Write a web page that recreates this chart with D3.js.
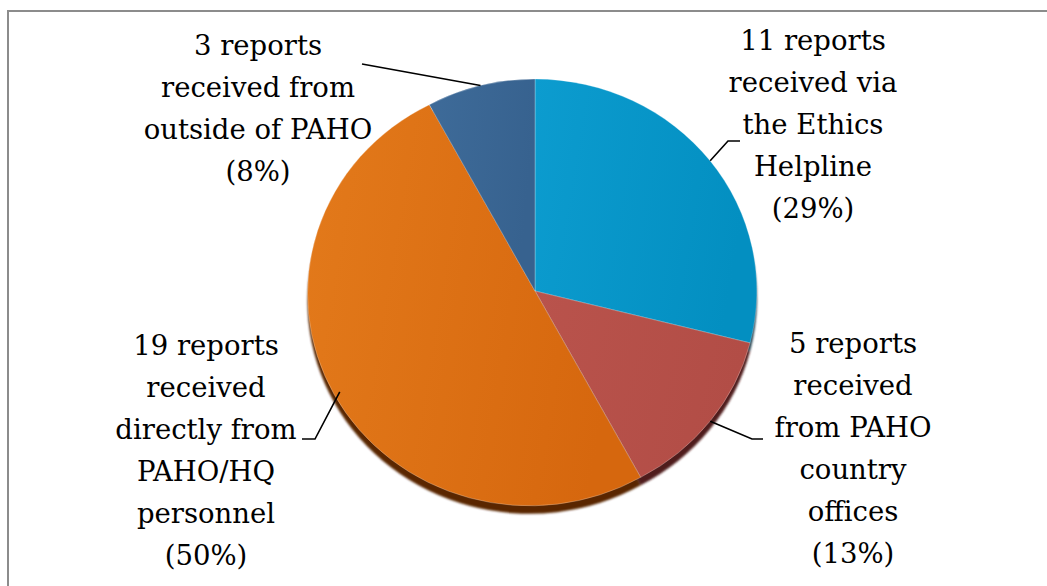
<!DOCTYPE html>
<html>
<head>
<meta charset="utf-8">
<script src="https://cdn.jsdelivr.net/npm/d3@7"></script>
<style>
  html, body { margin: 0; padding: 0; background: #fff; }
  svg { display: block; }
  text { font-family: "DejaVu Serif", serif; fill: #000; }
</style>
</head>
<body>
<svg id="chart" width="1047" height="586"></svg>
<script>
// data, clockwise from 12 o'clock
const categories = ["Ethics Helpline", "PAHO country offices", "PAHO/HQ personnel", "Outside of PAHO"];
const reports = [11, 5, 19, 3];
const labelLines = [
  ["11 reports", "received via", "the Ethics", "Helpline", "(29%)"],
  ["5 reports", "received", "from PAHO", "country", "offices", "(13%)"],
  ["19 reports", "received", "directly from", "PAHO/HQ", "personnel", "(50%)"],
  ["3 reports", "received from", "outside of PAHO", "(8%)"]
];

// slice colours: gradient left / right, and the dark rim below
const colors = {
  light: ["#0c9ccf", "#b9534c", "#e37a1b", "#3e6b99"],
  dark: ["#038fc1", "#b24d46", "#d6670e", "#37628f"],
  shadow: ["#1d3a4a", "#4f1e1e", "#5a2800", "#2a2a3a"]
};

const width = 1047, height = 586;
const cx = 535, cy = 291, rx = 222, ry = 212;
const fontSize = 27.5, lineGap = 42;

// label layout: centre x, first baseline, leader end points
const labelPos = [
  { x: 813, y: 50, elbow: [728, 141], end: [740, 141] },
  { x: 853, y: 353, elbow: [752, 439], end: [763, 439] },
  { x: 206, y: 355, elbow: [315, 439], end: [302, 439] },
  { x: 258, y: 55, elbow: null, end: [362, 64] }
];

const svg = d3.select("#chart");

// frame
svg.append("path")
  .attr("d", `M8,${height + 5} L8,11 L${width + 5},11`)
  .attr("fill", "none")
  .attr("stroke", "#8c8c8c")
  .attr("stroke-width", 2);

const defs = svg.append("defs");
categories.forEach((c, i) => {
  const g = defs.append("linearGradient")
    .attr("id", "grad" + i)
    .attr("x1", "0%").attr("y1", "0%").attr("x2", "100%").attr("y2", "20%");
  g.append("stop").attr("offset", "0%").attr("stop-color", colors.light[i]);
  g.append("stop").attr("offset", "100%").attr("stop-color", colors.dark[i]);
});
defs.append("filter").attr("id", "blur")
  .append("feGaussianBlur").attr("stdDeviation", 0.8);

const pie = d3.pie().sort(null).value(d => d);
const arcs = pie(reports);
const arc = d3.arc().innerRadius(0).outerRadius(1);

// shadow below the pie (blur applied in screen units on the outer group)
svg.append("g")
  .attr("filter", "url(#blur)")
  .append("g")
  .attr("transform", `translate(${cx},${cy + 8}) scale(${rx},${ry})`)
  .selectAll("path")
  .data(arcs)
  .enter().append("path")
  .attr("d", arc)
  .attr("fill", (d, i) => colors.shadow[i]);

// slices
svg.append("g")
  .attr("transform", `translate(${cx},${cy}) scale(${rx},${ry})`)
  .selectAll("path")
  .data(arcs)
  .enter().append("path")
  .attr("d", arc)
  .attr("fill", (d, i) => `url(#grad${i})`)
  .attr("stroke", "rgba(255,255,255,0.3)")
  .attr("stroke-width", 0.004);

// point on the pie edge for a given angle
function edgePoint(a, k) {
  return [cx + rx * k * Math.sin(a), cy - ry * k * Math.cos(a)];
}

// leader lines
const line = d3.line();
arcs.forEach((d, i) => {
  const p = labelPos[i];
  const mid = (d.startAngle + d.endAngle) / 2;
  const start = edgePoint(mid, 1.0);
  const pts = p.elbow ? [start, p.elbow, p.end] : [start, p.end];
  svg.append("path")
    .attr("d", line(pts))
    .attr("fill", "none")
    .attr("stroke", "#000")
    .attr("stroke-width", 1.6);
});

// labels
labelLines.forEach((lines, i) => {
  const p = labelPos[i];
  const t = svg.append("text")
    .attr("text-anchor", "middle")
    .attr("font-size", fontSize);
  lines.forEach((s, j) => {
    t.append("tspan")
      .attr("x", p.x)
      .attr("y", p.y + j * lineGap)
      .text(s);
  });
});
</script>
</body>
</html>
